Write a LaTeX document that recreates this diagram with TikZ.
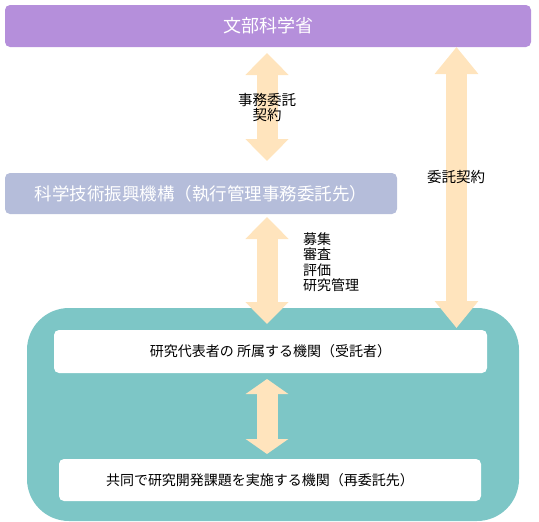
\documentclass[tikz,border=0pt]{standalone}
\usepackage{fontspec}
\setmainfont{Noto Sans CJK JP}
\usetikzlibrary{arrows.meta}
\definecolor{mextpurple}{RGB}{181,143,219}
\definecolor{jstblue}{RGB}{181,189,218}
\definecolor{tealbg}{RGB}{125,198,198}
\definecolor{arrowcol}{RGB}{255,228,189}
\tikzset{
  box/.style={rounded corners=5pt, inner sep=0pt, anchor=center},
  dblarrow/.style={draw=arrowcol, line width=21pt,
    {Triangle[width=42pt,length=#1]}-{Triangle[width=42pt,length=#1]}},
  dblarrow/.default=22pt,
  lbl/.style={font=\fontsize{14.5}{15}\selectfont, inner sep=0pt},
  boxtext/.style={font=\fontsize{14}{14}\selectfont, inner sep=0pt}
}
\begin{document}
\begin{tikzpicture}[x=1pt,y=-1pt]
\useasboundingbox (0,0) rectangle (539,522);
% boxes
\node[box, fill=tealbg, rounded corners=42pt, minimum width=492pt, minimum height=213pt] (grp) at (273,414.5) {};
\node[box, fill=white, minimum width=433pt, minimum height=43pt, boxtext] (inst) at (270.5,351.5) {研究代表者の 所属する機関（受託者）};
\node[box, fill=white, minimum width=422pt, minimum height=42pt] (sub) at (270,480) {};
\node[boxtext] (subtext) at (260,480) {共同で研究開発課題を実施する機関（再委託先）};
\node[box, fill=mextpurple, text=white, minimum width=526pt, minimum height=42pt, font=\fontsize{18}{18}\selectfont] (mext) at (268,26) {文部科学省};
\node[box, fill=jstblue, text=white, minimum width=392pt, minimum height=41pt, font=\fontsize{17.5}{17.5}\selectfont] (jst) at (201,193.5) {科学技術振興機構（執行管理事務委託先）};
% arrow end points
\coordinate (a1t) at (267,53);
\coordinate (a1b) at (267,161);
\coordinate (a2t) at (267,217);
\coordinate (a2b) at (267,324);
\coordinate (a3t) at (267,379);
\coordinate (a3b) at (267,454);
\coordinate (art) at (456.5,47);
\coordinate (arb) at (456.5,328);
% arrows
\draw[dblarrow] (a1t) -- (a1b);
\draw[dblarrow] (a2t) -- (a2b);
\draw[dblarrow=15pt] (a3t) -- (a3b);
\draw[dblarrow=27pt] (art) -- (arb);
% labels
\node[lbl, align=center] (l1) at (267,107.5) {事務委託\\契約};
\node[lbl, align=left, anchor=west, font=\fontsize{14}{15.4}\selectfont] (l2) at (303,262) {募集\\審査\\評価\\研究管理};
\node[lbl] (l3) at (456,177) {委託契約};
\end{tikzpicture}
\end{document}
